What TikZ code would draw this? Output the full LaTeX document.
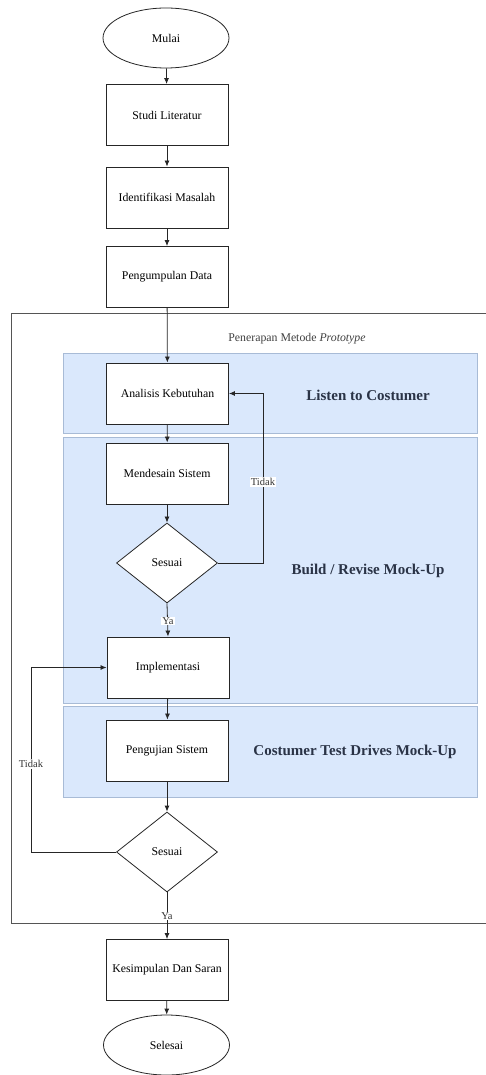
\documentclass[tikz,border=0pt]{standalone}
\usepackage{fontspec}
\setmainfont{Liberation Serif}
\usetikzlibrary{shapes.geometric,arrows.meta}
\definecolor{regionfill}{HTML}{DAE8FC}
\definecolor{regionline}{HTML}{A8BBD6}
\definecolor{labeltext}{HTML}{2A3346}
\definecolor{framegray}{HTML}{555555}

\begin{document}
\begin{tikzpicture}[x=1pt,y=-1pt,
  every node/.style={font=\fontsize{11.8}{14}\selectfont},
  proc/.style={draw=black!85, fill=white, minimum width=122pt, minimum height=61pt, inner sep=0pt, line width=0.9pt},
  term/.style={ellipse, draw=black!85, fill=white, minimum width=126pt, minimum height=60pt, inner sep=0pt, line width=0.8pt},
  decide/.style={diamond, draw=black!85, fill=white, minimum width=101pt, minimum height=80pt, inner sep=0pt, line width=0.8pt},
  flow/.style={draw=black!85, line width=0.8pt, -{Latex[length=6pt,width=5pt]}},
  region/.style={draw=regionline, fill=regionfill, line width=0.8pt},
  phase/.style={font=\fontsize{15}{18}\selectfont\bfseries, text=labeltext},
  answer/.style={font=\fontsize{10.5}{12}\selectfont, fill=white, inner sep=1pt, text=black!80},
]
% page
\fill[white] (0,0) rectangle (486,1075);
\useasboundingbox (0,0) rectangle (486,1075);

% prototype frame (open to the right)
\draw[framegray, line width=0.9pt] (486,313) -- (11,313) -- (11,923) -- (486,923);
\node[text=black!75] (proto) at (297,339) {Penerapan Metode \textit{Prototype}};

% phase bands
\draw[region] (63,353) rectangle (477,433);
\draw[region] (63,437) rectangle (477,703);
\draw[region] (63,706) rectangle (477,797);
\node[phase] (listen) at (368,395) {Listen to Costumer};
\node[phase] (build) at (368,571) {Build / Revise Mock-Up};
\node[phase] (drive) at (355,752) {Costumer Test Drives Mock-Up};

% flow steps
\node[term] (mulai) at (166,38) {Mulai};
\node[proc] (studi) at (167,115) {Studi Literatur};
\node[proc] (ident) at (167,197.5) {Identifikasi Masalah};
\node[proc] (kumpul) at (167,277) {Pengumpulan Data};
\node[proc] (analisis) at (167.5,393.5) {Analisis Kebutuhan};
\node[proc] (desain) at (167,473.5) {Mendesain Sistem};
\node[decide] (cek1) at (167,563) {Sesuai};
\node[proc] (impl) at (168,667.5) {Implementasi};
\node[proc] (uji) at (167,750.5) {Pengujian Sistem};
\node[decide] (cek2) at (167,852) {Sesuai};
\node[proc] (simpul) at (167,970) {Kesimpulan Dan Saran};
\node[term] (selesai) at (166.5,1045) {Selesai};

% main connectors
\draw[flow] (mulai) -- (studi);
\draw[flow] (studi) -- (ident);
\draw[flow] (ident) -- (kumpul);
\draw[flow] (kumpul) -- (analisis);
\draw[flow] (analisis) -- (desain);
\draw[flow] (desain) -- (cek1);
\draw[flow] (cek1.south) -- (impl.north);
\draw[flow] (impl) -- (uji);
\draw[flow] (uji) -- (cek2);
\draw[flow] (cek2.south) -- (simpul.north);
\draw[flow] (simpul) -- (selesai);

% loop back from first check
\coordinate (rtop) at (263,393.5);
\draw[flow] (cek1.east) -| (rtop) -- (analisis.east);
% loop back from second check
\coordinate (lbot) at (31,852);
\draw[flow] (cek2.west) -- (lbot) |- (impl.west);

% decision labels
\node[answer] (tidak1) at (263,482) {Tidak};
\node[answer] (ya1) at (168,621) {Ya};
\node[answer] (tidak2) at (31,764) {Tidak};
\node[answer] (ya2) at (167,916) {Ya};
\end{tikzpicture}
\end{document}
